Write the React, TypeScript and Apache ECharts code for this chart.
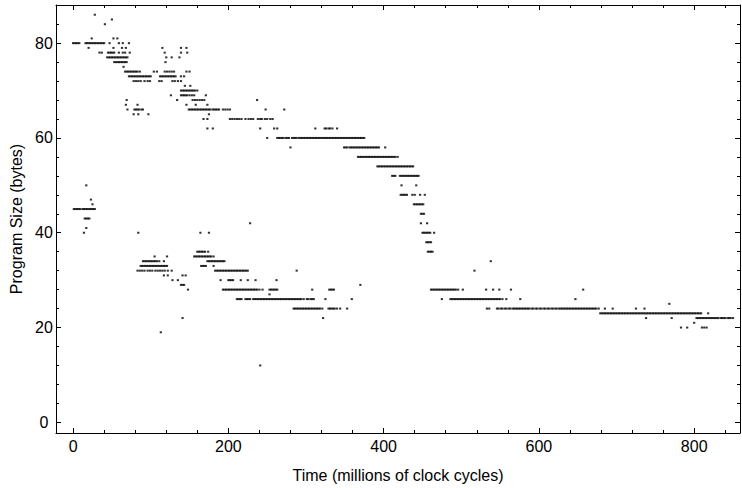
import React, { useEffect, useRef } from "react";
import * as echarts from "echarts";

// Program size (bytes) levels, each with the times (millions of clock cycles) at which a sample fell on it.
const upperRows: [number, number[]][] = [
  [86, [28]],
  [85, [50]],
  [84, [41]],
  [81, [24, 52, 57]],
  [80, [0, 2, 4, 6, 8, 16, 18, 20, 22, 24, 26, 28, 30, 32, 34, 36, 38, 40, 47, 59, 64, 72]],
  [79, [20, 52, 63, 68, 115, 139, 146]],
  [78, [34, 37, 45, 47, 49, 51, 53, 59, 64, 67, 73, 118, 139, 147]],
  [77, [44, 46, 48, 50, 52, 54, 56, 58, 60, 62, 64, 66, 68, 70, 120, 127, 137]],
  [76, [53, 55, 57, 59, 61, 63, 65, 67, 69, 119]],
  [75, [65]],
  [74, [67, 69, 71, 73, 75, 77, 79, 81, 83, 86, 104, 108, 118, 121, 124, 127, 130, 146, 150]],
  [73, [72, 74, 76, 78, 80, 82, 84, 86, 88, 90, 92, 94, 96, 98, 100, 112, 114, 116, 118, 120, 122, 124, 126, 128, 130, 132, 139, 143]],
  [72, [78, 81, 84, 87, 92, 96, 99, 111, 114, 128, 131, 135, 139]],
  [71, [144, 151]],
  [70, [139, 141, 143, 145, 147, 149, 151, 153, 155, 157, 160]],
  [69, [126, 139, 141, 143, 145, 147, 150, 153, 156, 171]],
  [68, [69, 134, 154, 157, 160, 163, 166, 169, 237]],
  [67, [68, 83, 146, 158, 173]],
  [66, [70, 79, 81, 83, 85, 88, 90, 149, 151, 153, 155, 157, 159, 161, 163, 165, 167, 169, 171, 173, 175, 177, 180, 182, 184, 186, 188, 193, 196, 199, 202, 248, 272]],
  [65, [78, 84, 97, 175]],
  [64, [168, 173, 202, 205, 208, 211, 214, 217, 222, 226, 229, 232, 238, 241, 243, 247, 250, 254, 257]],
  [62, [173, 180, 241, 259, 263, 312, 324, 326, 329, 331, 334, 340]],
  [60, [250, 263, 265, 267, 269, 271, 274, 276, 278, 282, 284, 286, 288, 291, 293, 295, 297, 299, 301, 303, 305, 307, 309, 311, 313, 315, 317, 319, 321, 323, 325, 327, 329, 331, 333, 335, 337, 339, 341, 343, 345, 347, 349, 351, 353, 355, 357, 359, 361, 363, 365, 367, 369, 371, 373, 375]],
  [58, [280, 349, 351, 353, 356, 358, 360, 362, 364, 366, 368, 370, 372, 374, 376, 378, 380, 382, 384, 386, 388, 390, 392, 394, 402]],
  [56, [367, 369, 371, 373, 375, 377, 379, 381, 383, 385, 387, 389, 391, 393, 395, 397, 399, 401, 403, 405, 407, 409, 411, 413, 415, 418]],
  [54, [392, 394, 396, 398, 400, 402, 404, 406, 408, 410, 412, 414, 416, 418, 420, 422, 424, 426, 428, 430, 432, 434, 436, 438]],
  [52, [411, 413, 415, 421, 423, 425, 427, 429, 431, 433, 435, 437, 439, 441, 443, 445]],
  [50, [423, 442]],
  [48, [422, 424, 426, 428, 430, 437, 440, 447, 453]],
  [46, [439, 441, 443, 445, 447, 449, 451]],
  [44, [448, 450, 452]],
  [42, [448, 456]],
  [40, [450, 452, 454, 456, 458, 460, 465]],
  [38, [455, 457, 459, 461]],
  [36, [457, 459, 461, 463]],
];

const lowerRows: [number, number[]][] = [
  [50, [17]],
  [47, [23]],
  [46, [25]],
  [45, [1, 3, 5, 7, 9, 12, 14, 16, 18, 20, 22, 24, 26, 28]],
  [43, [15, 17, 19, 21]],
  [42, [228]],
  [41, [17]],
  [40, [14, 84, 164, 175]],
  [36, [160, 162, 164, 166, 168, 170, 174]],
  [35, [105, 121, 156, 158, 160, 162, 164, 166, 168, 170, 172, 174, 176, 178, 181]],
  [34, [90, 92, 94, 96, 98, 100, 102, 104, 106, 108, 111, 117, 173, 175, 177, 179, 181, 183, 185, 187, 189, 191, 193, 195]],
  [33, [87, 89, 91, 93, 95, 97, 99, 101, 103, 105, 107, 109, 111, 113, 115, 117, 119, 121, 165, 167, 169, 171, 181]],
  [32, [83, 86, 89, 92, 96, 99, 102, 106, 109, 112, 115, 118, 122, 127, 183, 185, 187, 189, 191, 193, 195, 197, 199, 201, 203, 205, 207, 209, 211, 213, 215, 217, 219, 221, 223, 225, 288]],
  [31, [117, 122, 141, 145]],
  [30, [128, 135, 190, 200, 202, 204, 206, 216, 225, 235, 262]],
  [29, [139, 141, 143, 370]],
  [28, [148, 193, 195, 197, 199, 201, 203, 205, 207, 209, 211, 213, 215, 217, 219, 221, 223, 225, 227, 229, 231, 233, 235, 237, 240, 244, 253, 255, 257, 259, 261, 263, 308, 330, 332, 334, 336]],
  [27, [253]],
  [26, [211, 213, 215, 217, 222, 224, 226, 228, 232, 234, 236, 238, 240, 242, 244, 246, 248, 250, 252, 254, 256, 258, 260, 262, 264, 266, 268, 270, 272, 274, 276, 278, 280, 282, 284, 286, 288, 290, 292, 294, 297, 301, 303, 306, 308, 310, 325, 359]],
  [24, [284, 286, 288, 290, 292, 294, 296, 298, 300, 302, 304, 306, 308, 310, 312, 314, 316, 318, 321, 329, 331, 333, 335, 337, 340, 344, 353]],
  [22, [141, 322]],
  [19, [113]],
  [12, [241]],
];

const tailRows: [number, number[]][] = [
  [34, [538]],
  [32, [517]],
  [28, [461, 463, 465, 467, 469, 471, 473, 475, 477, 479, 481, 483, 485, 487, 489, 491, 493, 496, 502, 532, 541, 549, 564, 657]],
  [26, [475, 486, 488, 490, 492, 494, 496, 498, 500, 502, 504, 506, 508, 510, 512, 514, 516, 518, 520, 522, 524, 526, 528, 530, 532, 534, 536, 538, 540, 542, 544, 546, 548, 550, 553, 558, 576, 647]],
  [25, [768]],
  [24, [533, 536, 546, 548, 551, 553, 556, 558, 561, 563, 566, 568, 570, 572, 574, 576, 578, 580, 582, 584, 586, 588, 591, 593, 596, 598, 601, 603, 606, 608, 611, 613, 616, 618, 621, 623, 626, 628, 630, 632, 634, 636, 638, 640, 642, 644, 646, 648, 650, 652, 654, 656, 658, 660, 662, 664, 666, 668, 670, 672, 674, 677, 685, 695, 725, 736]],
  [23, [679, 681, 683, 685, 687, 689, 691, 693, 695, 697, 699, 701, 703, 705, 707, 709, 711, 713, 715, 717, 719, 721, 723, 725, 727, 729, 731, 733, 735, 737, 739, 741, 743, 745, 747, 749, 751, 753, 755, 757, 759, 761, 763, 765, 767, 769, 771, 773, 775, 777, 779, 781, 783, 785, 787, 789, 791, 793, 795, 797, 799, 801, 803, 805, 807, 809, 818]],
  [22, [738, 771, 803, 805, 807, 809, 811, 813, 815, 817, 819, 821, 823, 825, 827, 829, 831, 834, 836, 838, 840, 843, 845, 847, 850]],
  [21, [800]],
  [20, [783, 791, 810, 813, 816]],
];

const xMajorTicks = [0, 200, 400, 600, 800];
const xMinorTicks = [40, 80, 120, 160, 240, 280, 320, 360, 440, 480, 520, 560, 640, 680, 720, 760, 840];
const yMajorTicks = [0, 20, 40, 60, 80];
const yMinorTicks = [4, 8, 12, 16, 24, 28, 32, 36, 44, 48, 52, 56, 64, 68, 72, 76, 84];

const xTitle = "Time (millions of clock cycles)";
const yTitle = "Program Size (bytes)";

const FONT = '"Liberation Sans", Arial, Helvetica, sans-serif';

function flatten(rows: [number, number[]][]): [number, number][] {
  const out: [number, number][] = [];
  rows.forEach(([size, times]) => times.forEach((t) => out.push([t, size])));
  return out;
}

export default function App() {
  const ref = useRef<HTMLDivElement>(null);
  useEffect(() => {
    if (!ref.current) return;
    const chart = echarts.init(ref.current, null, { renderer: "svg" });
    const X_MIN = -22, X_MAX = 859, Y_MIN = -2.25, Y_MAX = 88.05;
    const line = { color: "#000", width: 1 };
    const xBase = { type: "value", min: X_MIN, max: X_MAX, splitLine: { show: false } };
    const yBase = { type: "value", min: Y_MIN, max: Y_MAX, splitLine: { show: false } };
    const frame = { show: true, onZero: false, lineStyle: line };
    const noLine = { show: false, onZero: false };
    const data = [...flatten(upperRows), ...flatten(lowerRows), ...flatten(tailRows)];
    chart.setOption({
      animation: false,
      backgroundColor: "#fff",
      grid: { left: 55, right: 2, top: 5, bottom: 54, containLabel: false },
      xAxis: [
        {
          ...xBase, position: "bottom",
          axisLine: frame,
          axisTick: { show: true, inside: true, length: 5, customValues: xMajorTicks, lineStyle: line },
          axisLabel: { show: true, customValues: xMajorTicks, color: "#000", fontSize: 16, fontFamily: FONT, margin: 5 },
          name: xTitle, nameLocation: "middle", nameGap: 34,
          nameTextStyle: { color: "#000", fontSize: 16, fontFamily: FONT },
        },
        {
          ...xBase, position: "bottom",
          axisLine: noLine,
          axisTick: { show: true, inside: true, length: 3, customValues: xMinorTicks, lineStyle: line },
          axisLabel: { show: false },
        },
        {
          ...xBase, position: "top",
          axisLine: frame,
          axisTick: { show: true, inside: true, length: 5, customValues: xMajorTicks, lineStyle: line },
          axisLabel: { show: false },
        },
        {
          ...xBase, position: "top",
          axisLine: noLine,
          axisTick: { show: true, inside: true, length: 3, customValues: xMinorTicks, lineStyle: line },
          axisLabel: { show: false },
        },
      ],
      yAxis: [
        {
          ...yBase, position: "left",
          axisLine: frame,
          axisTick: { show: true, inside: true, length: 5, customValues: yMajorTicks, lineStyle: line },
          axisLabel: { show: true, customValues: yMajorTicks, color: "#000", fontSize: 16, fontFamily: FONT, margin: 12, align: "center" },
          name: yTitle, nameLocation: "middle", nameGap: 32,
          nameTextStyle: { color: "#000", fontSize: 16, fontFamily: FONT },
        },
        {
          ...yBase, position: "left",
          axisLine: noLine,
          axisTick: { show: true, inside: true, length: 3, customValues: yMinorTicks, lineStyle: line },
          axisLabel: { show: false },
        },
        {
          ...yBase, position: "right",
          axisLine: frame,
          axisTick: { show: true, inside: true, length: 5, customValues: yMajorTicks, lineStyle: line },
          axisLabel: { show: false },
        },
        {
          ...yBase, position: "right",
          axisLine: noLine,
          axisTick: { show: true, inside: true, length: 3, customValues: yMinorTicks, lineStyle: line },
          axisLabel: { show: false },
        },
      ],
      series: [
        {
          type: "scatter",
          xAxisIndex: 0,
          yAxisIndex: 0,
          data,
          symbol: "rect",
          symbolSize: [2.2, 2],
          itemStyle: { color: "#000" },
          silent: true,
        },
      ],
    });
    return () => chart.dispose();
  }, []);
  return (
    <div
      ref={ref}
      style={{ position: "absolute", left: 0, top: 0, width: 742, height: 488, background: "#fff" }}
    />
  );
}
